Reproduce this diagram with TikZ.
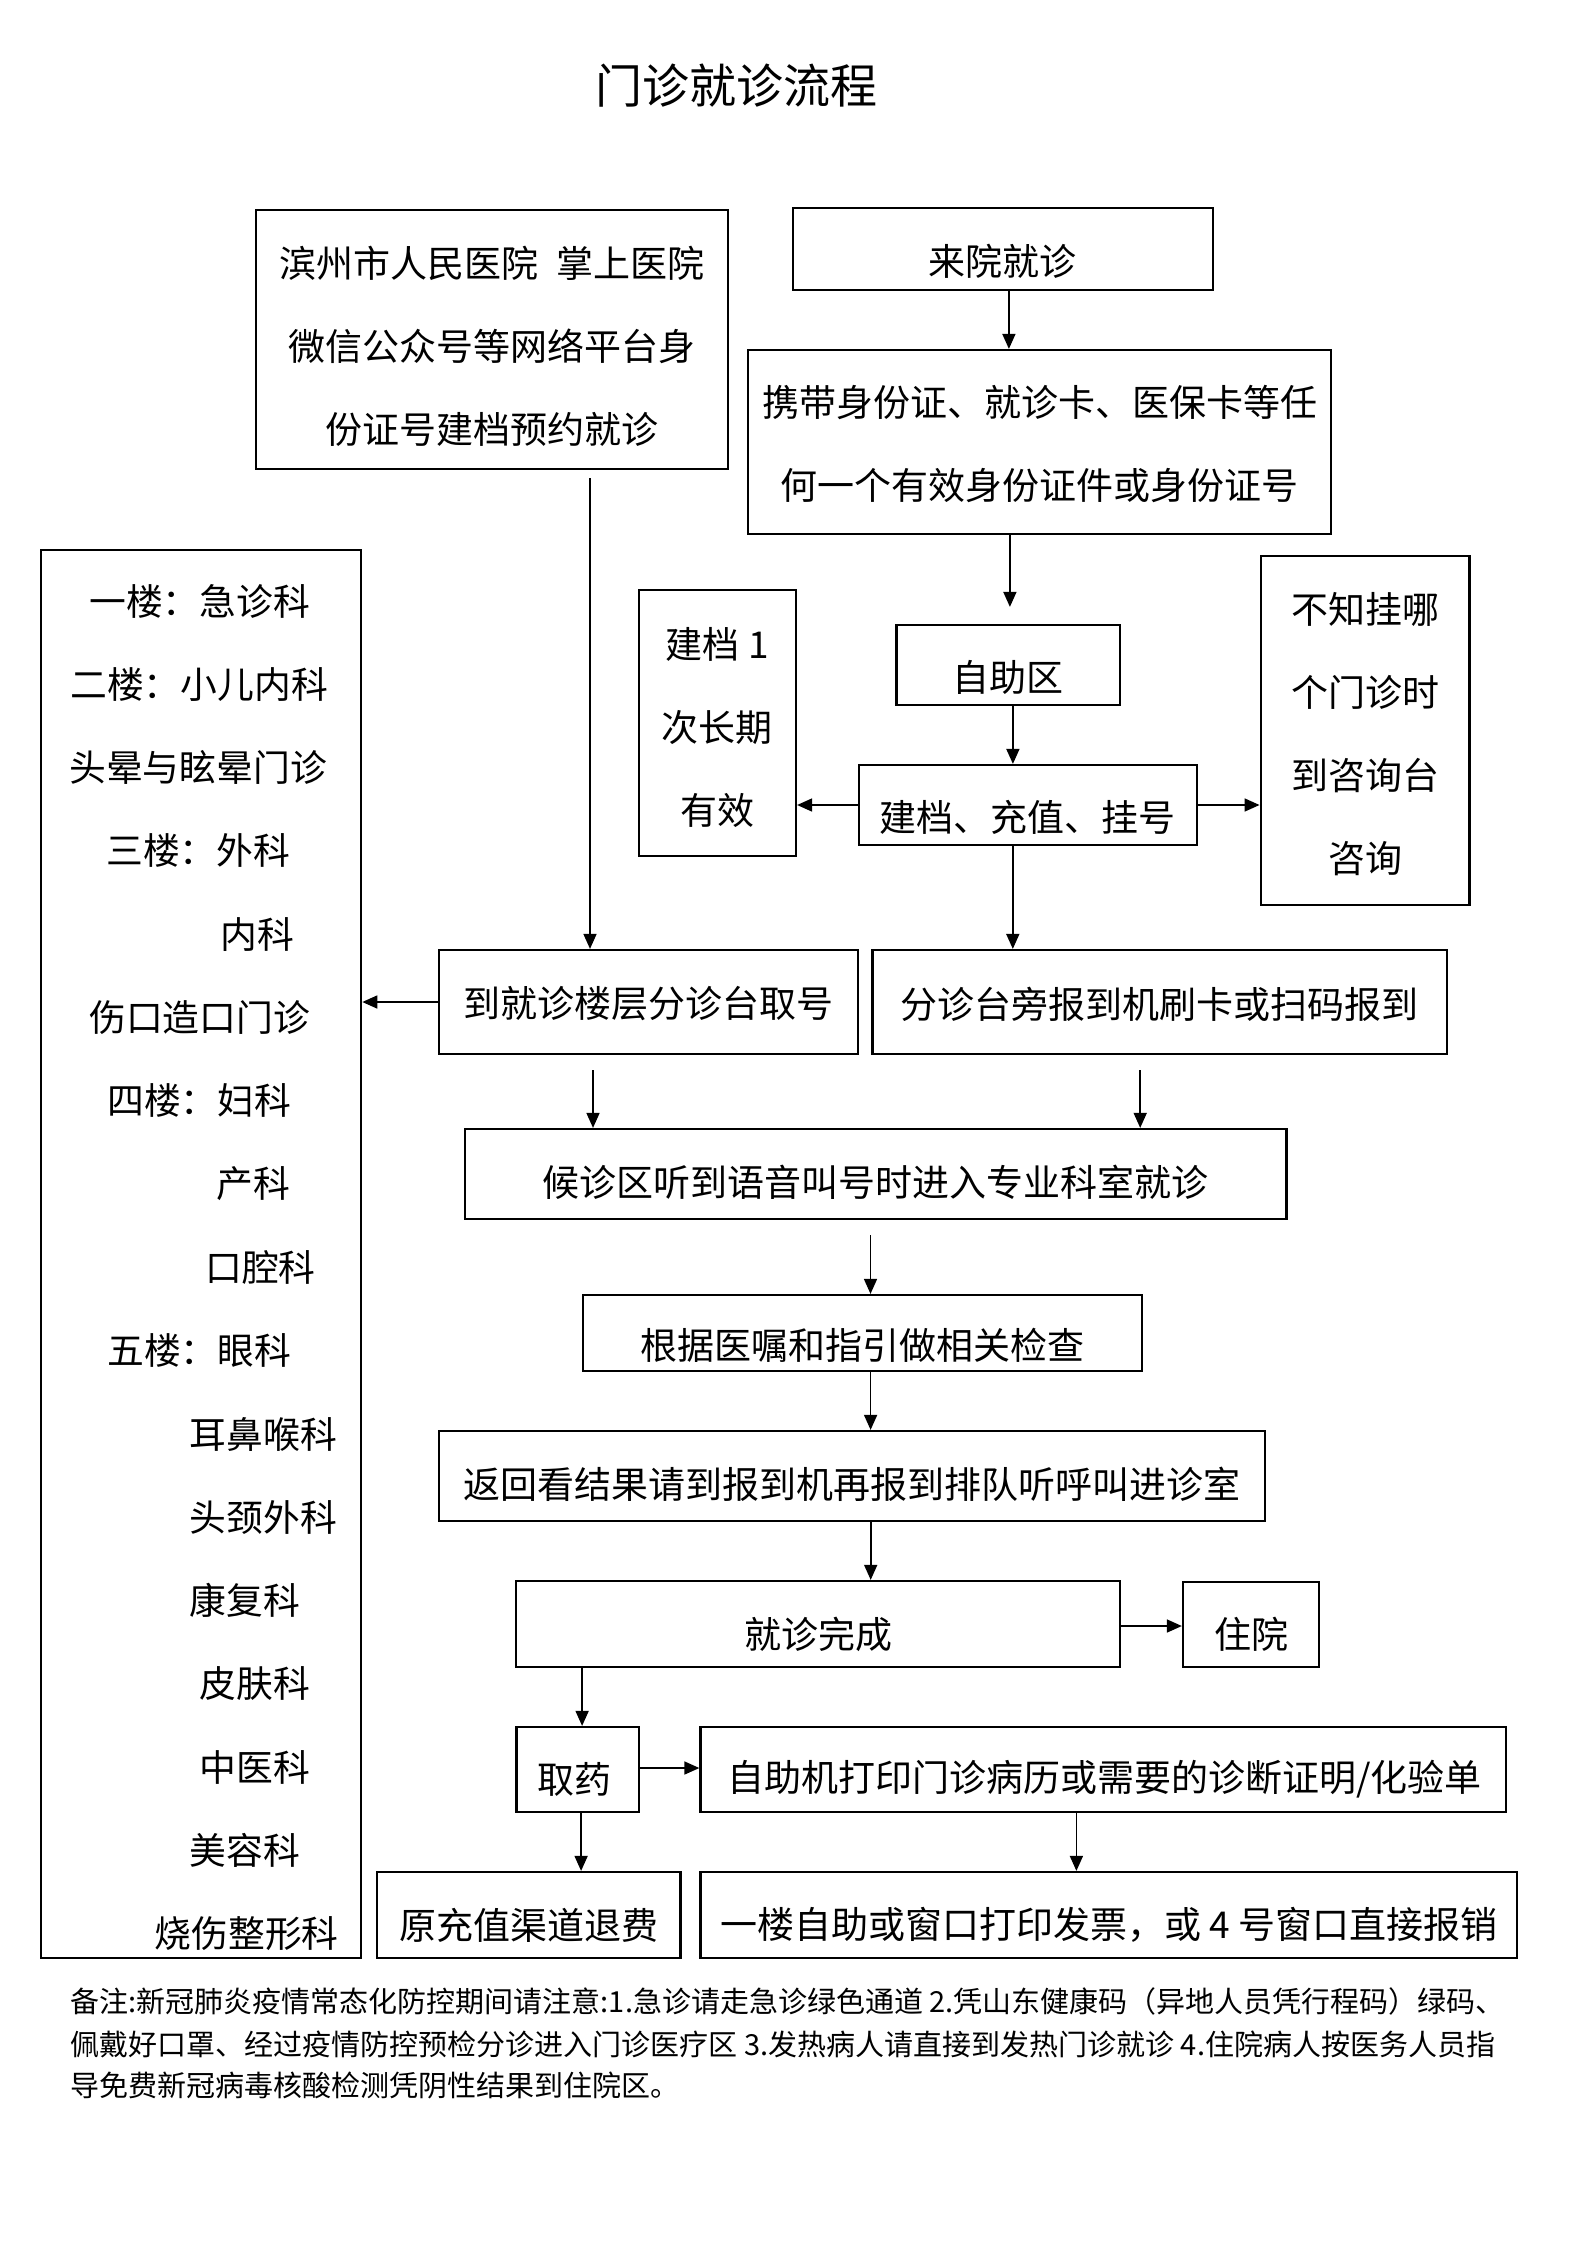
\documentclass[tikz,border=0pt]{standalone}
\usepackage{fontspec}
\setmainfont{Noto Sans CJK SC}
\usetikzlibrary{arrows.meta,calc}
\tikzset{
  box/.style={draw, line width=2.2pt, inner sep=0pt},
  txt/.style={inner sep=0pt, font=\fontsize{37}{83}\selectfont, align=center},
  ltxt/.style={inner sep=0pt, anchor=west, font=\fontsize{36.8}{83}\selectfont},
  note/.style={inner sep=0pt, anchor=west, font=\fontsize{29}{42}\selectfont},
  arr/.style={line width=1.6pt, -{Triangle[length=15pt,width=13pt]}},
}
\begin{document}
\begin{tikzpicture}[x=1pt,y=-1pt]
\useasboundingbox (0,0) rectangle (1587,2245);
\fill[white] (0,0) rectangle (1587,2245);

% title
\node[inner sep=0pt, font=\fontsize{47}{56}\selectfont] (title) at (736.3,86) {门诊就诊流程};

% boxes
\node[box, minimum width=472.6pt, minimum height=259pt] (A) at (492,339.5) {};
\node[txt] (At) at (492,346) {滨州市人民医院\hspace{0.5em}掌上医院\\微信公众号等网络平台身\\份证号建档预约就诊};

\node[box, minimum width=419.9pt, minimum height=82pt] (B) at (1002.9,249) {};
\node[txt] (Bt) at (1002.9,261) {来院就诊};

\node[box, minimum width=583pt, minimum height=184pt] (C) at (1039.7,442) {};
\node[txt] (Ct) at (1039.7,444) {携带身份证、就诊卡、医保卡等任\\何一个有效身份证件或身份证号};

\node[box, minimum width=320.4pt, minimum height=1408pt] (L) at (201,1254) {};

\node[box, minimum width=157.2pt, minimum height=266pt] (J) at (717.4,723) {};
\node[txt] (Jt) at (717.4,727) {建档 1\\次长期\\有效};

\node[box, minimum width=223.9pt, minimum height=80pt] (Z) at (1008.4,665) {};
\node[txt] (Zt) at (1008.4,677) {自助区};

\node[box, minimum width=338.3pt, minimum height=80pt] (R) at (1027.8,805) {};
\node[txt] (Rt) at (1027.8,817) {建档、充值、挂号};

\node[box, minimum width=208.9pt, minimum height=349pt] (Q) at (1365.1,730.5) {};
\node[txt] (Qt) at (1365.1,734.5) {不知挂哪\\个门诊时\\到咨询台\\咨询};

\node[box, minimum width=418.9pt, minimum height=104pt] (F) at (648.2,1002) {};
\node[txt] (Ft) at (648.2,1004) {到就诊楼层分诊台取号};

\node[box, minimum width=574.1pt, minimum height=104pt] (S) at (1159.6,1002) {};
\node[txt] (St) at (1159.6,1004) {分诊台旁报到机刷卡或扫码报到};

\node[box, minimum width=821.8pt, minimum height=90pt] (H) at (875.5,1174) {};
\node[txt] (Ht) at (875.5,1182) {候诊区听到语音叫号时进入专业科室就诊};

\node[box, minimum width=559.2pt, minimum height=76pt] (G) at (862.6,1333) {};
\node[txt] (Gt) at (862.6,1345) {根据医嘱和指引做相关检查};

\node[box, minimum width=825.8pt, minimum height=90pt] (K) at (851.7,1476) {};
\node[txt] (Kt) at (851.7,1484) {返回看结果请到报到机再报到排队听呼叫进诊室};

\node[box, minimum width=603.9pt, minimum height=86pt] (W) at (818.3,1624) {};
\node[txt] (Wt) at (818.3,1634) {就诊完成};

\node[box, minimum width=136.3pt, minimum height=85pt] (Y) at (1251.1,1624.5) {};
\node[txt] (Yt) at (1251.1,1634) {住院};

\node[box, minimum width=122.4pt, minimum height=85pt] (M) at (577.6,1769.5) {};
\node[txt] (Mt) at (574.1,1779) {取药};

\node[box, minimum width=805.9pt, minimum height=85pt] (P) at (1103.4,1769.5) {};
\node[txt] (Pt) at (1104.4,1779) {自助机打印门诊病历或需要的诊断证明/化验单};

\node[box, minimum width=303.5pt, minimum height=86pt] (T) at (528.8,1915) {};
\node[txt] (Tt) at (528.8,1925) {原充值渠道退费};

\node[box, minimum width=816.8pt, minimum height=86pt] (V) at (1108.9,1915) {};
\node[txt] (Vt) at (1108.9,1925) {一楼自助或窗口打印发票，或 4 号窗口直接报销};

% left box lines
\node[ltxt] (L1) at (89,601) {一楼：急诊科};
\node[ltxt] (L2) at (70,684.3) {二楼：小儿内科};
\node[ltxt] (L3) at (69,767.6) {头晕与眩晕门诊};
\node[ltxt] (L4) at (106,850.9) {三楼：外科};
\node[ltxt] (L5) at (220,934.2) {内科};
\node[ltxt] (L6) at (89,1017.5) {伤口造口门诊};
\node[ltxt] (L7) at (107,1100.8) {四楼：妇科};
\node[ltxt] (L8) at (216,1184.1) {产科};
\node[ltxt] (L9) at (205,1267.4) {口腔科};
\node[ltxt] (L10) at (107,1350.7) {五楼：眼科};
\node[ltxt] (L11) at (189.5,1434) {耳鼻喉科};
\node[ltxt] (L12) at (189.5,1517.3) {头颈外科};
\node[ltxt] (L13) at (189.5,1600.6) {康复科};
\node[ltxt] (L14) at (199.5,1683.9) {皮肤科};
\node[ltxt] (L15) at (199.5,1767.2) {中医科};
\node[ltxt] (L16) at (189.5,1850.5) {美容科};
\node[ltxt] (L17) at (154.5,1933.8) {烧伤整形科};

% note
\node[note] (N1) at (70.6,2001) {备注:新冠肺炎疫情常态化防控期间请注意:1.急诊请走急诊绿色通道 2.凭山东健康码（异地人员凭行程码）绿码、};
\node[note] (N2) at (70.6,2044) {佩戴好口罩、经过疫情防控预检分诊进入门诊医疗区 3.发热病人请直接到发热门诊就诊 4.住院病人按医务人员指};
\node[note] (N3) at (70.6,2085) {导免费新冠病毒核酸检测凭阴性结果到住院区。};

% connectors
\path ($(A.south)+(98,8)$) coordinate (a1);
\draw[arr] (a1) -- (a1 |- F.north);
\path ($(B.south)+(6,0)$) coordinate (b1);
\draw[arr] (b1) -- (b1 |- C.north);
\path ($(C.south)+(-29.8,0)$) coordinate (c1);
\draw[arr, shorten >=17pt] (c1) -- (c1 |- Z.north);
\path ($(Z.south)+(4.5,0)$) coordinate (z1);
\draw[arr] (z1) -- (z1 |- R.north);
\draw[arr] (R.west) -- (R.west -| J.east);
\draw[arr] (R.east) -- (R.east -| Q.west);
\path ($(R.south)+(-15,0)$) coordinate (r1);
\draw[arr] (r1) -- (r1 |- S.north);
\draw[arr] (F.west) -- (F.west -| L.east);
\path ($(F.south)+(-55.2,15)$) coordinate (f1);
\draw[arr] (f1) -- (f1 |- H.north);
\path ($(S.south)+(-19.4,15)$) coordinate (s1);
\draw[arr] (s1) -- (s1 |- H.north);
\path ($(H.south)+(-5,15)$) coordinate (h1);
\draw[arr] (h1) -- (h1 |- G.north);
\path ($(G.south)+(8,0)$) coordinate (g1);
\draw[arr] (g1) -- (g1 |- K.north);
\path ($(K.south)+(19,0)$) coordinate (k1);
\draw[arr] (k1) -- (k1 |- W.north);
\draw[arr] ($(W.east)+(0,2)$) -- ($(W.east -| Y.west)+(0,2)$);
\path ($(M.north)+(4.5,0)$) coordinate (m1);
\draw[arr] (W.south -| m1) -- (m1);
\draw[arr] ($(M.east)+(0,-1.5)$) -- ($(M.east -| P.west)+(0,-1.5)$);
\path ($(M.south)+(3.5,0)$) coordinate (m2);
\draw[arr] (m2) -- (m2 |- T.north);
\path ($(P.south)+(-27,0)$) coordinate (p1);
\draw[arr] (p1) -- (p1 |- V.north);
\end{tikzpicture}
\end{document}
